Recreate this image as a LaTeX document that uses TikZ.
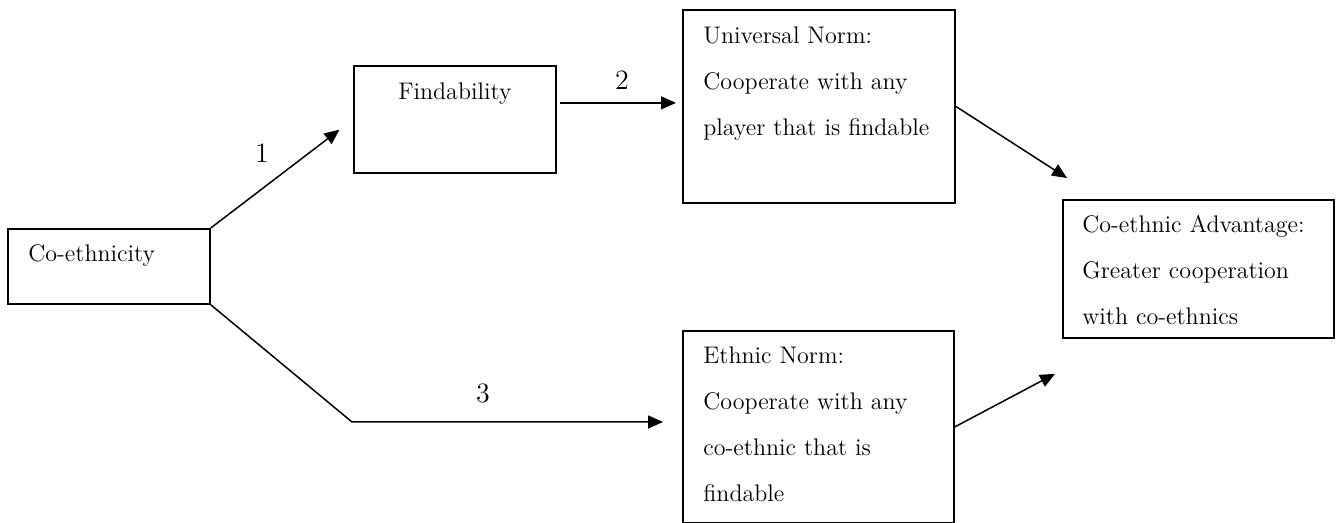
\documentclass[tikz,border=0pt]{standalone}
\usetikzlibrary{arrows.meta}

\tikzset{
  box/.style={draw, line width=0.9pt, inner sep=0pt, anchor=north west},
  txt/.style={anchor=base west, inner sep=0pt, text width=130pt, align=left,
    font=\fontsize{12}{23}\selectfont},
  num/.style={inner sep=0pt, font=\fontsize{14}{16}\selectfont},
  arr/.style={line width=0.75pt, -{Triangle[length=7.5pt,width=6.5pt]}},
}

\begin{document}
\begin{tikzpicture}[x=0.5pt, y=-0.5pt]
\useasboundingbox (0,0) rectangle (1338,523);

\node[box, minimum width=101pt, minimum height=37.5pt] (coeth) at (7,228) {};
\node[box, minimum width=101pt, minimum height=53.5pt] (find) at (353,65) {};
\node[box, minimum width=136pt, minimum height=96.5pt] (univ) at (682,9) {};
\node[box, minimum width=135.5pt, minimum height=96pt] (ethn) at (682,330) {};
\node[box, minimum width=135.5pt, minimum height=69pt] (adv) at (1062,199) {};

\node[txt] (coeth-t) at ([xshift=10.5pt,yshift=-17pt]coeth.north west) {Co-ethnicity};
\node[txt, anchor=base, text width=90pt, align=center] (find-t) at ([yshift=-17.5pt]find.north) {Findability};
\node[txt] (univ-t) at ([xshift=10.5pt,yshift=-17.5pt]univ.north west)
  {Universal Norm:\\Cooperate with any\\player that is findable};
\node[txt] (ethn-t) at ([xshift=10.5pt,yshift=-17pt]ethn.north west)
  {Ethnic Norm:\\Cooperate with any\\co-ethnic that is\\findable};
\node[txt] (adv-t) at ([xshift=10pt,yshift=-17pt]adv.north west)
  {Co-ethnic Advantage:\\Greater cooperation\\with co-ethnics};

\coordinate (f2) at ([yshift=8.25pt]find.east);
\coordinate (bend) at (352,422);

\draw[arr, shorten >=8.5pt] (coeth.north east) -- (find.west);
\draw[arr, shorten <=1.5pt, shorten >=3pt] (f2) -- (f2 -| univ.west);
\draw[arr, shorten >=9.5pt] (coeth.south east) -- (bend) -- (bend -| ethn.west);
\draw[arr] (univ.east) -- ([xshift=2.5pt,yshift=10.5pt]adv.north west);
\draw[arr] (ethn.east) -- ([xshift=-3.5pt,yshift=-17.5pt]adv.south west);

\node[num] (n1) at (262,153) {1};
\node[num] (n2) at (622,80) {2};
\node[num] (n3) at (483,393) {3};

\end{tikzpicture}
\end{document}
